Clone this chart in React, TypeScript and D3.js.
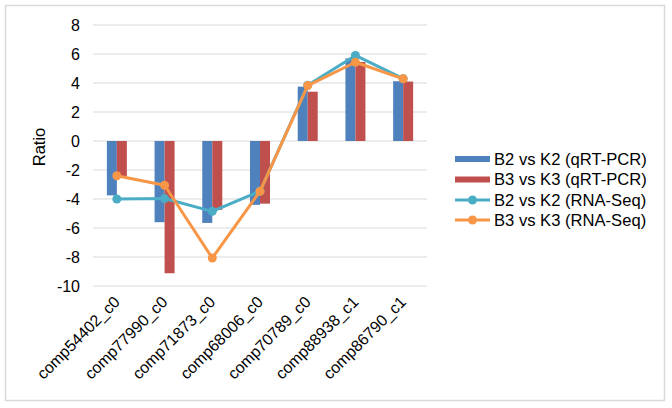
import React from "react";
import * as d3 from "d3";

const categories = ["comp54402_c0", "comp77990_c0", "comp71873_c0", "comp68006_c0", "comp70789_c0", "comp88938_c1", "comp86790_c1"];
const b2QrtPcr = [-3.75, -5.6, -5.65, -4.4, 3.75, 5.7, 4.12];
const b3QrtPcr = [-2.5, -9.12, -4.75, -4.32, 3.4, 5.45, 4.1];
const b2RnaSeq = [-4.0, -3.97, -4.85, -3.47, 3.85, 5.9, 4.3];
const b3RnaSeq = [-2.4, -3.05, -8.07, -3.47, 3.82, 5.43, 4.29];
const yTicks = [-10, -8, -6, -4, -2, 0, 2, 4, 6, 8];

const seriesNames = ["B2 vs K2 (qRT-PCR)", "B3 vs K3 (qRT-PCR)", "B2 vs K2 (RNA-Seq)", "B3 vs K3 (RNA-Seq)"];
const colors = ["#4F81BD", "#C0504D", "#4BACC6", "#F79646"];

export default function App() {
  const W = 672, H = 408;
  const left = 93, right = 427, top = 25, bottom = 286;
  const x = d3.scaleBand<string>().domain(categories).range([left, right]);
  const y = d3.scaleLinear().domain([-10, 8]).range([bottom, top]);
  const barW = 10;
  const cx = (c: string) => (x(c) as number) + x.bandwidth() / 2;
  const line = d3.line<number>().x((_, i) => cx(categories[i])).y((v) => y(v));
  const font = "'Liberation Sans', Arial, sans-serif";
  const lineSeries = [b2RnaSeq, b3RnaSeq];
  const legendY = [159, 179.5, 200, 220];

  return (
    <svg width={W} height={H} style={{ position: "absolute", left: 0, top: 0 }} fontFamily={font}>
      <rect x={0} y={0} width={W} height={H} fill="#fff" />
      <rect x={5.5} y={5.5} width={659} height={395} fill="none" stroke="#d9d9d9" strokeWidth={1.5} />
      {yTicks.map((t) => (
        <g key={t}>
          <line x1={left} x2={right} y1={y(t)} y2={y(t)} stroke="#d9d9d9" strokeWidth={1} />
          <text x={80} y={y(t)} dy="0.35em" textAnchor="end" fontSize={16} fill="#000">{t}</text>
        </g>
      ))}
      <text transform={`translate(45,147) rotate(-90)`} textAnchor="middle" fontSize={16.5} fill="#000">Ratio</text>
      {categories.map((c, i) => (
        <g key={c}>
          <rect x={cx(c) - barW} y={y(Math.max(0, b2QrtPcr[i]))} width={barW} height={Math.abs(y(b2QrtPcr[i]) - y(0))} fill={colors[0]} />
          <rect x={cx(c)} y={y(Math.max(0, b3QrtPcr[i]))} width={barW} height={Math.abs(y(b3QrtPcr[i]) - y(0))} fill={colors[1]} />
        </g>
      ))}
      {lineSeries.map((s, k) => (
        <g key={k}>
          <path d={line(s) || ""} fill="none" stroke={colors[k + 2]} strokeWidth={3} strokeLinejoin="round" />
          {s.map((v, i) => (
            <circle key={i} cx={cx(categories[i])} cy={y(v)} r={4.5} fill={colors[k + 2]} />
          ))}
        </g>
      ))}
      {categories.map((c) => (
        <text key={c} transform={`translate(${cx(c) + 4},${303}) rotate(-45)`} textAnchor="end" fontSize={16} fill="#000">{c}</text>
      ))}
      {seriesNames.map((n, i) => (
        <g key={n}>
          {i < 2 ? (
            <rect x={455} y={legendY[i] - 3} width={35} height={6} fill={colors[i]} />
          ) : (
            <g>
              <line x1={455} x2={490} y1={legendY[i]} y2={legendY[i]} stroke={colors[i]} strokeWidth={3} />
              <circle cx={472.5} cy={legendY[i]} r={4.5} fill={colors[i]} />
            </g>
          )}
          <text x={494} y={legendY[i]} dy="0.35em" fontSize={16.6} fill="#000">{n}</text>
        </g>
      ))}
    </svg>
  );
}
